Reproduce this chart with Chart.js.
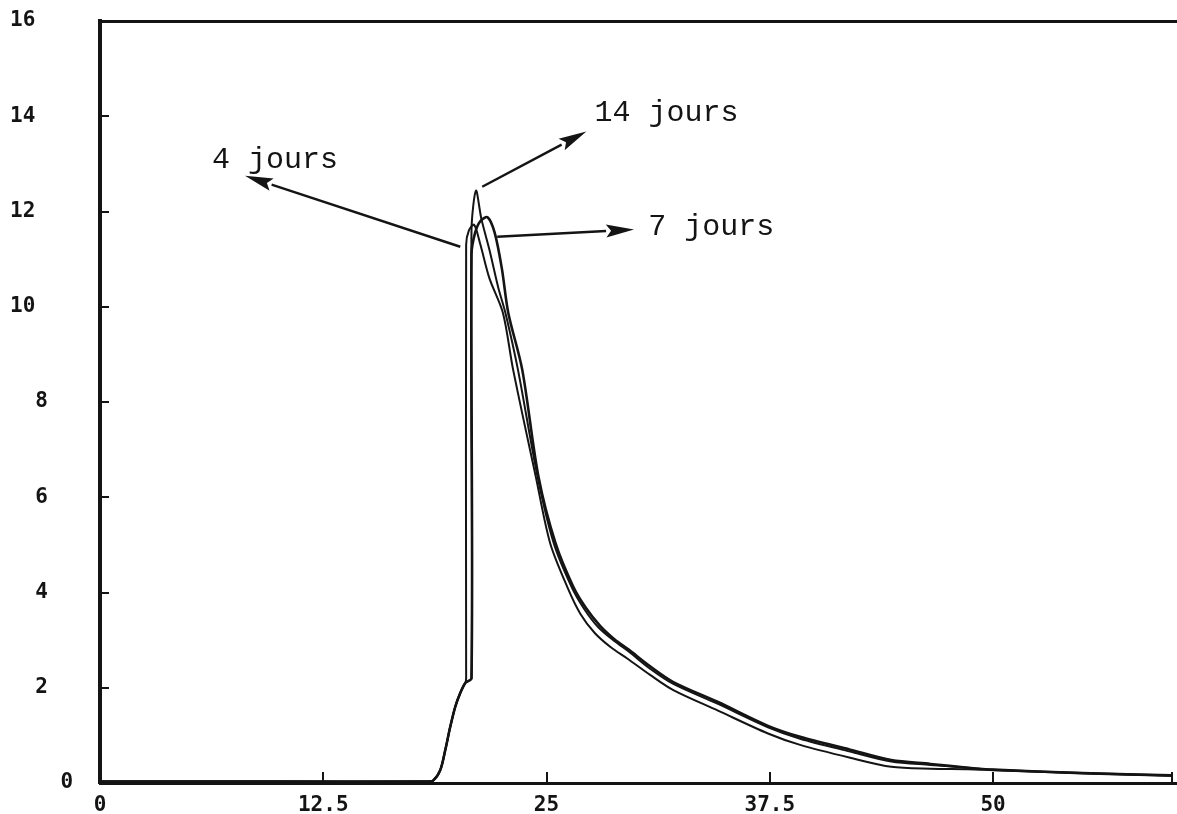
<!DOCTYPE html>
<html><head><meta charset="utf-8">
<script src="https://cdn.jsdelivr.net/npm/chart.js@4.4.1/dist/chart.umd.min.js"></script>
<style>html,body{margin:0;padding:0;background:#fff;}#wrap{width:1177px;height:814px;position:relative;}</style>
</head><body><div id="wrap"><canvas id="c"></canvas></div>
<script>
// ---- tick labels ----
const xTickValues = [0, 12.5, 25, 37.5, 50, 60];
const xTickLabels = ['0', '12.5', '25', '37.5', '50', ''];
const yTickValues = [0, 2, 4, 6, 8, 10, 12, 14, 16];
const yTickLabels = ['    0', '  2', '  4', '  6', '  8', '10', '12', '14', '16'];

// ---- series ----
const seriesNames = ['4 jours', '14 jours', '7 jours'];

const jours4X = [0, 10, 18.3, 18.65, 19.05, 19.33, 19.61, 19.89, 20.17, 20.45, 20.5, 20.5, 20.65, 20.95, 21.3, 21.8, 22.56, 23.13, 24.4, 25.2, 26.16, 26.9, 27.7, 28.6, 29.5, 30.8, 32.1, 34.6, 37.4, 39.2, 42.0, 44.3, 46.5, 48.6, 50, 55, 60];
const jours4Y = [0.03, 0.03, 0.03, 0.05, 0.27, 0.69, 1.18, 1.6, 1.89, 2.1, 2.2, 11.3, 11.6, 11.72, 11.3, 10.6, 9.87, 8.68, 6.43, 5.04, 4.12, 3.55, 3.15, 2.85, 2.62, 2.27, 1.95, 1.52, 1.04, 0.8, 0.53, 0.34, 0.3, 0.29, 0.27, 0.2, 0.15];

const jours14X = [0, 10, 18.3, 18.65, 19.05, 19.33, 19.61, 19.89, 20.17, 20.45, 20.8, 20.8, 21.05, 21.35, 21.8, 22.3, 22.7, 23.4, 24.5, 25.4, 26.4, 27.1, 27.9, 28.8, 29.6, 30.8, 32.1, 34.6, 37.4, 39.2, 42.0, 44.3, 46.5, 48.6, 50, 55, 60];
const jours14Y = [0.03, 0.03, 0.03, 0.05, 0.27, 0.69, 1.18, 1.6, 1.89, 2.1, 2.2, 11.6, 12.44, 11.85, 11.2, 10.4, 9.87, 8.68, 6.43, 5.04, 4.12, 3.66, 3.27, 2.98, 2.76, 2.4, 2.08, 1.66, 1.17, 0.93, 0.66, 0.45, 0.38, 0.32, 0.28, 0.21, 0.16];

const jours7X = [0, 10, 18.3, 18.65, 19.05, 19.33, 19.61, 19.89, 20.17, 20.45, 20.8, 20.8, 21.0, 21.3, 21.7, 22.1, 22.5, 22.86, 23.64, 24.55, 25.5, 26.5, 27.2, 28.0, 28.8, 29.6, 30.8, 32.1, 34.6, 37.4, 39.2, 42.0, 44.3, 46.5, 48.6, 50, 55, 60];
const jours7Y = [0.03, 0.03, 0.03, 0.05, 0.27, 0.69, 1.18, 1.6, 1.89, 2.1, 2.2, 11.1, 11.55, 11.8, 11.88, 11.55, 10.8, 9.87, 8.68, 6.43, 5.04, 4.12, 3.68, 3.3, 3.02, 2.8, 2.45, 2.12, 1.7, 1.2, 0.97, 0.7, 0.48, 0.4, 0.32, 0.28, 0.21, 0.16];

// ---- annotation placement (data units) ----
const annotationTexts = ['4 jours', '14 jours', '7 jours'];
const annotationAnchors = [[6.27, 12.92], [27.68, 13.89], [30.7, 11.51]];
const arrowFrom = [[20.17, 11.26], [21.4, 12.52], [22.24, 11.47]];
const arrowTo = [[8.12, 12.75], [27.23, 13.68], [29.9, 11.62]];

const INK = '#141414';
const toPts = (xs, ys) => xs.map((x, i) => ({ x: x, y: ys[i] }));

const inwardTicks = {
  id: 'inwardTicks',
  afterDraw(chart) {
    const { ctx, chartArea: a, scales } = chart;
    const x = scales.x, y = scales.y;
    ctx.save();
    ctx.strokeStyle = INK; ctx.lineWidth = 2;
    x.ticks.forEach(t => {
      if (t.value === 0) return;
      const px = Math.round(x.getPixelForValue(t.value));
      ctx.beginPath(); ctx.moveTo(px, a.bottom); ctx.lineTo(px, a.bottom - 11); ctx.stroke();
    });
    y.ticks.forEach(t => {
      if (t.value === 0 || t.value === 16) return;
      const py = Math.round(y.getPixelForValue(t.value));
      ctx.beginPath(); ctx.moveTo(a.left, py); ctx.lineTo(a.left + 9, py); ctx.stroke();
    });
    ctx.restore();
  }
};

const annotator = {
  id: 'annotator',
  afterDraw(chart) {
    const { ctx, scales } = chart;
    const x = scales.x, y = scales.y;
    ctx.save();
    ctx.fillStyle = INK; ctx.strokeStyle = INK;
    ctx.font = '30px "Liberation Mono", "DejaVu Sans Mono", monospace';
    ctx.textBaseline = 'alphabetic'; ctx.textAlign = 'left';
    annotationTexts.forEach((txt, i) => {
      ctx.fillText(txt, x.getPixelForValue(annotationAnchors[i][0]), y.getPixelForValue(annotationAnchors[i][1]));
      const x0 = x.getPixelForValue(arrowFrom[i][0]), y0 = y.getPixelForValue(arrowFrom[i][1]);
      const x1 = x.getPixelForValue(arrowTo[i][0]), y1 = y.getPixelForValue(arrowTo[i][1]);
      const ang = Math.atan2(y1 - y0, x1 - x0);
      const L = 28, W = 6.5;
      const bx = x1 - L * Math.cos(ang), by = y1 - L * Math.sin(ang);
      ctx.lineWidth = 2.4;
      ctx.beginPath(); ctx.moveTo(x0, y0); ctx.lineTo(bx, by); ctx.stroke();
      ctx.beginPath();
      ctx.moveTo(x1, y1);
      ctx.lineTo(bx + W * Math.sin(ang), by - W * Math.cos(ang));
      ctx.lineTo(bx + 5 * Math.cos(ang), by + 5 * Math.sin(ang));
      ctx.lineTo(bx - W * Math.sin(ang), by + W * Math.cos(ang));
      ctx.closePath(); ctx.fill();
    });
    ctx.restore();
  }
};

const tickFont = { family: '"DejaVu Sans Mono", monospace', weight: 'bold', size: 21 };
const lineStyle = { borderColor: INK, borderWidth: 2, pointRadius: 0, tension: 0.3, fill: false };

new Chart(document.getElementById('c'), {
  type: 'line',
  data: {
    datasets: [
      Object.assign({ label: seriesNames[0], data: toPts(jours4X, jours4Y) }, lineStyle),
      Object.assign({ label: seriesNames[1], data: toPts(jours14X, jours14Y) }, lineStyle),
      Object.assign({ label: seriesNames[2], data: toPts(jours7X, jours7Y) }, lineStyle, { borderWidth: 2.6 })
    ]
  },
  options: {
    responsive: true, maintainAspectRatio: false, animation: false,
    layout: { padding: { left: 10, top: 21, right: 0, bottom: 0 } },
    plugins: { legend: { display: false }, tooltip: { enabled: false } },
    scales: {
      x: {
        type: 'linear', position: 'bottom', min: 0, max: 60.3,
        afterBuildTicks: s => { s.ticks = xTickValues.map(v => ({ value: v })); },
        afterFit: s => { s.height = 31; },
        ticks: { autoSkip: false, maxRotation: 0, padding: 2, color: INK, font: tickFont,
          callback: (v, i) => xTickLabels[i] },
        grid: { display: false },
        border: { display: true, width: 3, color: INK }
      },
      xTop: {
        type: 'linear', position: 'top', min: 0, max: 60.3,
        afterFit: s => { s.height = 0; },
        ticks: { display: false }, grid: { display: false },
        border: { display: true, width: 3, color: INK }
      },
      y: {
        type: 'linear', min: 0, max: 16,
        afterBuildTicks: s => { s.ticks = yTickValues.map(v => ({ value: v })); },
        afterFit: s => { s.width = 90; },
        ticks: { crossAlign: 'far', padding: 0, color: INK, font: tickFont,
          callback: (v, i) => yTickLabels[i] },
        grid: { display: false },
        border: { display: true, width: 4, color: INK }
      }
    }
  },
  plugins: [inwardTicks, annotator]
});
</script>
</body></html>
